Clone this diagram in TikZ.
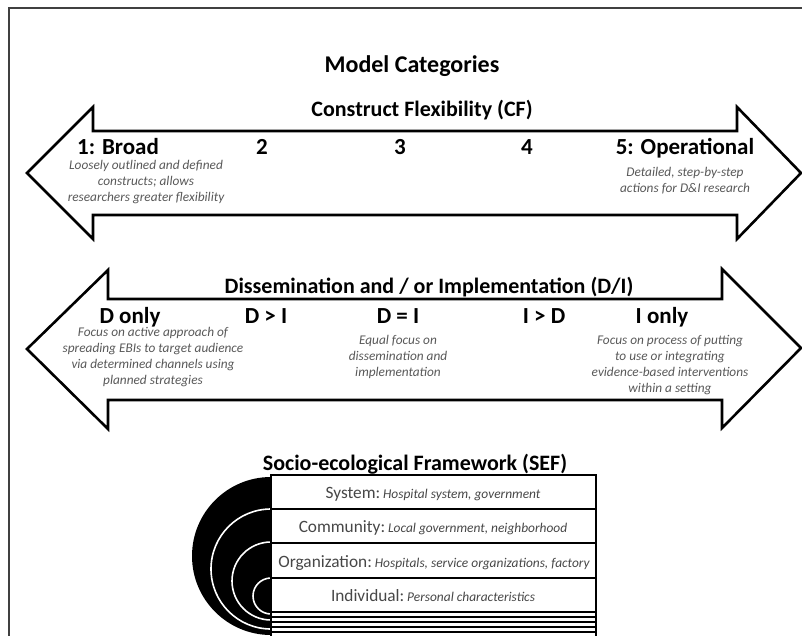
\documentclass[tikz,border=0pt]{standalone}
\usepackage{fontspec}
\setmainfont{Carlito}
\newcommand\lvit{\fontsize{13.4}{15}\selectfont\itshape}
\begin{document}
\begin{tikzpicture}[x=1pt,y=-1pt,
  title/.style={font=\fontsize{24}{26}\selectfont\bfseries, inner sep=0pt, anchor=base},
  head/.style={font=\fontsize{22}{24}\selectfont\bfseries, inner sep=0pt, anchor=base},
  mark label/.style={font=\fontsize{23}{24}\selectfont\bfseries, inner sep=0pt, anchor=base},
  note/.style={font=\fontsize{13.3}{16}\selectfont\itshape, text=black!65, align=center, inner sep=0pt},
  band/.style={draw=black, line width=2.6pt, fill=white, line join=miter, miter limit=10},
  level/.style={font=\fontsize{17.3}{18}\selectfont, text=black!72, inner sep=0pt, anchor=base}
]
\useasboundingbox (0,0) rectangle (802,636);
\clip (0,0) rectangle (802,636);
\fill[white] (0,0) rectangle (802,636);

% outer frame
\draw[black!75, line width=2pt] (9,8) rectangle (820,660);

\node[title] (mc) at (412,73) {Model Categories};

% Construct Flexibility band
\draw[band] (27,173) -- (93,107) -- (93,131) -- (737,131) -- (737,107) -- (801,173)
  -- (737,239) -- (737,215) -- (93,215) -- (93,239) -- cycle;
\node[head] (cf) at (422,117) {Construct Flexibility (CF)};
\node[mark label] (cf1) at (118,155) {1: Broad};
\node[mark label] (cf2) at (262,155) {2};
\node[mark label] (cf3) at (400,155) {3};
\node[mark label] (cf4) at (527,155) {4};
\node[mark label] (cf5) at (685,155) {5: Operational};
\node[note] (cf1n) at (146,182) {Loosely outlined and defined\\constructs; allows\\researchers greater flexibility};
\node[note] (cf5n) at (685,181) {Detailed, step-by-step\\actions for D\&I research};

% Dissemination / Implementation band
\draw[band] (27,349) -- (108,270) -- (108,299) -- (722,299) -- (722,269) -- (801,348)
  -- (722,428) -- (722,400) -- (108,400) -- (108,429) -- cycle;
\node[head] (di) at (429,293) {Dissemination and / or Implementation (D/I)};
\node[mark label] (d0) at (130,323) {D only};
\node[mark label] (d1) at (266,323) {D > I};
\node[mark label] (d2) at (398,323) {D = I};
\node[mark label] (d3) at (544,323) {I > D};
\node[mark label] (d4) at (662,323) {I only};
\node[note] (d0n) at (153,357) {Focus on active approach of\\spreading EBIs to target audience\\via determined channels using\\planned strategies};
\node[note] (d2n) at (398,357) {Equal focus on\\dissemination and\\implementation};
\node[note] (d4n) at (670,365) {Focus on process of putting\\to use or integrating\\evidence-based interventions\\within a setting};

% Socio-ecological framework
\node[head] (sef) at (415,470) {Socio-ecological Framework (SEF)};
\begin{scope}
  \clip (0,400) rectangle (271,700);
  \fill[black] (271,556) circle (79);
  \draw[white, line width=1.6pt] (271,569) circle (60);
  \draw[white, line width=1.6pt] (271,581) circle (39);
  \draw[white, line width=1.6pt] (271,596) circle (18);
\end{scope}
\draw[line width=2pt, fill=white] (271,475) rectangle (596,660);
\foreach \yy in {509,543,578,612} \draw[line width=2pt] (271,\yy) -- (596,\yy);
\foreach \yy in {617,622,627,632} \draw[line width=1.4pt] (271,\yy) -- (596,\yy);
\node[level] (sys) at (433,498) {System:\,{\lvit Hospital system, government}};
\node[level] (com) at (433,532) {Community:\,{\lvit Local government, neighborhood}};
\node[level] (org) at (434,567) {Organization:\,{\lvit Hospitals, service organizations, factory}};
\node[level] (ind) at (433,601) {Individual:\,{\lvit Personal characteristics}};
\end{tikzpicture}
\end{document}
